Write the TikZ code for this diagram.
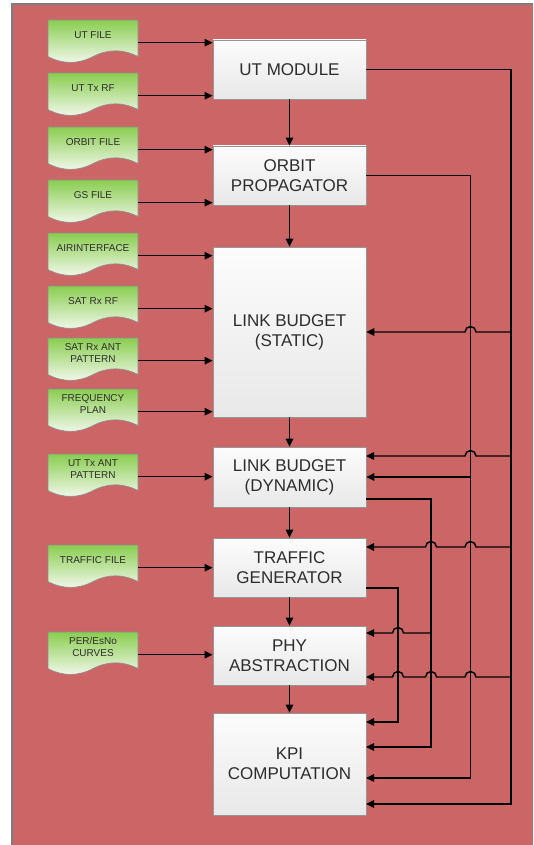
\documentclass[tikz,border=0pt]{standalone}
\usepackage{fontspec}
\setmainfont{Liberation Sans}
\usetikzlibrary{arrows.meta,calc}

\definecolor{canvasred}{RGB}{204,102,102}
\definecolor{framegray}{RGB}{125,125,125}
\definecolor{txt}{RGB}{45,45,45}
\definecolor{docgreen}{RGB}{138,205,80}
\definecolor{docpale}{RGB}{244,249,240}
\definecolor{docedge}{RGB}{140,140,140}
\definecolor{boxtop}{RGB}{252,252,252}
\definecolor{boxbot}{RGB}{232,232,232}
\definecolor{edgegray}{RGB}{150,150,150}

\tikzset{
  procbox/.style={rectangle, minimum width=153pt, inner sep=0pt,
    top color=boxtop, bottom color=boxbot, draw=edgegray, line width=0.7pt,
    font=\fontsize{17}{20}\selectfont, text=txt, align=center},
  docframe/.style={top color=docgreen, bottom color=docpale, draw=docedge, line width=0.6pt},
  docbody/.style={rectangle, minimum width=90pt, minimum height=45pt, inner sep=0pt, anchor=north},
  doclabel/.style={font=\fontsize{10}{12}\selectfont, text=txt, align=center, inner sep=0pt},
  link/.style={draw=black, line width=1.45pt, -{Triangle[length=8pt,width=7.5pt]}},
}

% input file: wavy-bottomed page with its label near the top
% #1 name, #2 top edge, #3 label
\newcommand\docpage[3]{%
  \shade[docframe] (48,#2) -- (138,#2) -- (138,#2+36.55)
    .. controls (123,#2+28.81) and (108,#2+28.81) .. (93,#2+36.55)
    .. controls (78,#2+44.29) and (63,#2+44.29) .. (48,#2+36.55) -- cycle;
  \node[docbody] (#1) at (93,#2) {};
  \node[doclabel] (#1-label) at (93,#2+15) {#3};
}

% line hop over a vertical connector, drawn while heading left
\newcommand\jump[1]{-- ($(#1)+(5.5,0)$) arc[start angle=0, end angle=180, radius=5.5pt]}

\begin{document}
\begin{tikzpicture}[x=1pt,y=-1pt]
\useasboundingbox (0,0) rectangle (533,845);
\fill[canvasred] (12,4) rectangle (533,845);
\draw[framegray, line width=1.7pt] (12,845) -- (12,4) -- (533,4);

% processing chain
\node[procbox, minimum height=59pt]  (m1) at (289.5,69.5)  {UT MODULE};
\node[procbox, minimum height=59pt]  (m2) at (289.5,175.5) {ORBIT\\PROPAGATOR};
\node[procbox, minimum height=170pt] (m3) at (289.5,332)   {LINK BUDGET\\(STATIC)};
\node[procbox, minimum height=60pt]  (m4) at (289.5,477)   {LINK BUDGET\\(DYNAMIC)};
\node[procbox, minimum height=59pt]  (m5) at (289.5,567.5) {TRAFFIC\\GENERATOR};
\node[procbox, minimum height=59pt]  (m6) at (289.5,655.5) {PHY\\ABSTRACTION};
\node[procbox, minimum height=102pt] (m7) at (289.5,764)   {KPI\\COMPUTATION};

% input files
\docpage{d1}{20}{UT FILE}
\docpage{d2}{73}{UT Tx RF}
\docpage{d3}{127}{ORBIT FILE}
\docpage{d4}{180}{GS FILE}
\docpage{d5}{233}{AIRINTERFACE}
\docpage{d6}{286}{SAT Rx RF}
\docpage{d7}{338}{SAT Rx ANT\\PATTERN}
\docpage{d8}{389}{FREQUENCY\\PLAN}
\docpage{d9}{454}{UT Tx ANT\\PATTERN}
\docpage{d10}{545}{TRAFFIC FILE}
\docpage{d11}{632}{PER/EsNo\\CURVES}

% files into the chain
\draw[link] (d1.east) -- (d1.east -| m1.west);
\draw[link] (d2.east) -- (d2.east -| m1.west);
\draw[link] (d3.east) -- (d3.east -| m2.west);
\draw[link] (d4.east) -- (d4.east -| m2.west);
\draw[link] (d5.east) -- (d5.east -| m3.west);
\draw[link] (d6.east) -- (d6.east -| m3.west);
\draw[link] (d7.east) -- (d7.east -| m3.west);
\draw[link] (d8.east) -- (d8.east -| m3.west);
\draw[link] (d9.east) -- (d9.east -| m4.west);
\draw[link] (d10.east) -- (d10.east -| m5.west);
\draw[link] (d11.east) -- (d11.east -| m6.west);

% main flow
\draw[link] (m1.south) -- (m2.north);
\draw[link] (m2.south) -- (m3.north);
\draw[link] (m3.south) -- (m4.north);
\draw[link] (m4.south) -- (m5.north);
\draw[link] (m5.south) -- (m6.north);
\draw[link] (m6.south) -- (m7.north);

% feedback bus columns
\coordinate (xA) at (511,0);
\coordinate (xB) at (470.5,0);
\coordinate (xC) at (431,0);
\coordinate (xD) at (398,0);

% outlets and inlets on the right-hand sides
\coordinate (oD)  at (366,499);
\coordinate (oT)  at (366,588);
\coordinate (eD1) at (366,456);
\coordinate (eT)  at (366,547);
\coordinate (eP1) at (366,633);
\coordinate (eP2) at (366,677);
\coordinate (eK1) at (366,722);
\coordinate (eK2) at (366,747);
\coordinate (eK3) at (366,778);
\coordinate (eK4) at (366,804);

% columns down to KPI computation
\draw[link] (m1.east) -| (xA |- eK4) -- (eK4);
\draw[link] (m2.east) -| (xB |- eK3) -- (eK3);
\draw[link] (oD) -| (xC |- eK2) -- (eK2);
\draw[link] (oT) -| (xD |- eK1) -- (eK1);

% branches off the columns
\draw[link] (xA |- m3.east) \jump{xB |- m3.east} -- (m3.east);
\draw[link] (xA |- eD1) \jump{xB |- eD1} -- (eD1);
\draw[link] (xB |- m4.east) -- (m4.east);
\draw[link] (xA |- eT) \jump{xB |- eT} \jump{xC |- eT} -- (eT);
\draw[link] (xC |- eP1) \jump{xD |- eP1} -- (eP1);
\draw[link] (xA |- eP2) \jump{xB |- eP2} \jump{xC |- eP2} \jump{xD |- eP2} -- (eP2);
\end{tikzpicture}
\end{document}
